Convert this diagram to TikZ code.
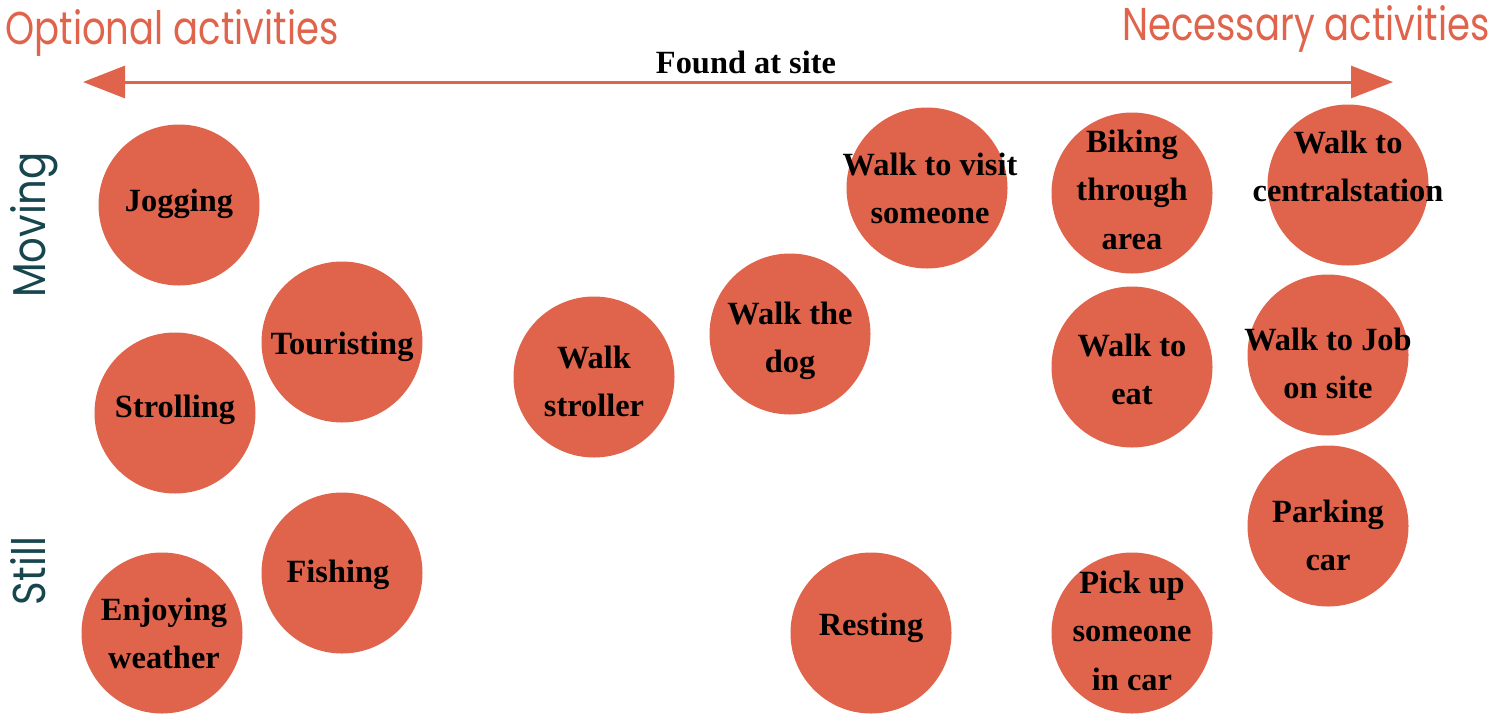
\documentclass[tikz,border=0pt]{standalone}
\usepackage{fontspec}
\setmainfont{Liberation Serif}
\newfontfamily\futura{Poppins}
\usetikzlibrary{arrows.meta}
\definecolor{dotred}{HTML}{E0634B}
\definecolor{teal}{HTML}{17464F}
\tikzset{
  dot/.style={circle,fill=dotred,inner sep=0pt,minimum size=80.5pt},
  lbl/.style={anchor=base,inner sep=0pt,font=\fontsize{16.2}{24.25}\selectfont\bfseries},
  title/.style={inner sep=0pt,text=dotred,font=\futura\fontsize{23}{28}\selectfont},
  side/.style={inner sep=0pt,text=teal,font=\futura\fontsize{23}{28}\selectfont,rotate=90,anchor=base},
}
\newcommand{\ml}[1]{\setlength\tabcolsep{0pt}\begin{tabular}[t]{c}#1\end{tabular}}
\begin{document}
\begin{tikzpicture}[x=0.5pt,y=-0.5pt]
\useasboundingbox (0,0) rectangle (1493,713);
% titles
\node[title,anchor=base west] (opt) at (5,44) {\scalebox{0.805}[1]{Optional activities}};
\node[title,anchor=base east] (nec) at (1490,40) {\scalebox{0.805}[1]{Necessary activities}};
\node[side] (mov) at (45,225) {\scalebox{0.875}[1]{Moving}};
\node[side] (sti) at (45,571) {\scalebox{0.875}[1]{Still}};
% axis
\coordinate (la) at (83,82);
\coordinate (ra) at (1393,82);
\draw[dotred,line width=1.5pt,{Triangle[length=21pt,width=16pt]}-{Triangle[length=21pt,width=16pt]}] (la) -- (ra);
\node[lbl] (found) at (746,73) {Found at site};
% circles
\node[dot] (jog) at (179,205) {};
\node[dot] (tour) at (342,342) {};
\node[dot] (stroll) at (175,413) {};
\node[dot] (wstr) at (594,377) {};
\node[dot] (wdog) at (790,334) {};
\node[dot] (wvis) at (927,188) {};
\node[dot] (bike) at (1132,193) {};
\node[dot] (wcen) at (1348,185) {};
\node[dot] (weat) at (1132,367) {};
\node[dot] (wjob) at (1328,355) {};
\node[dot] (park) at (1328,526) {};
\node[dot] (fish) at (342,573) {};
\node[dot] (enj) at (162,633) {};
\node[dot] (rest) at (871,633) {};
\node[dot] (pick) at (1132,633) {};
% labels
\node[lbl] (tjog) at (179,211) {Jogging};
\node[lbl] (ttour) at (342,354) {Touristing};
\node[lbl] (tstroll) at (175,417) {Strolling};
\node[lbl] (twstr) at (594,368) {\ml{Walk\\stroller}};
\node[lbl] (twdog) at (790,324) {\ml{Walk the\\dog}};
\node[lbl] (twvis) at (930,175) {\ml{Walk to visit\\someone}};
\node[lbl] (tbike) at (1132,152) {\ml{Biking\\through\\area}};
\node[lbl] (twcen) at (1348,153) {\ml{Walk to\\centralstation}};
\node[lbl] (tweat) at (1132,356) {\ml{Walk to\\eat}};
\node[lbl] (twjob) at (1328,350) {\ml{Walk to Job\\on site}};
\node[lbl] (tpark) at (1328,522) {\ml{Parking\\car}};
\node[lbl] (tfish) at (338,582) {Fishing};
\node[lbl] (tenj) at (164,620) {\ml{Enjoying\\weather}};
\node[lbl] (trest) at (871,635) {Resting};
\node[lbl] (tpick) at (1132,593) {\ml{Pick up\\someone\\in car}};
\end{tikzpicture}
\end{document}
